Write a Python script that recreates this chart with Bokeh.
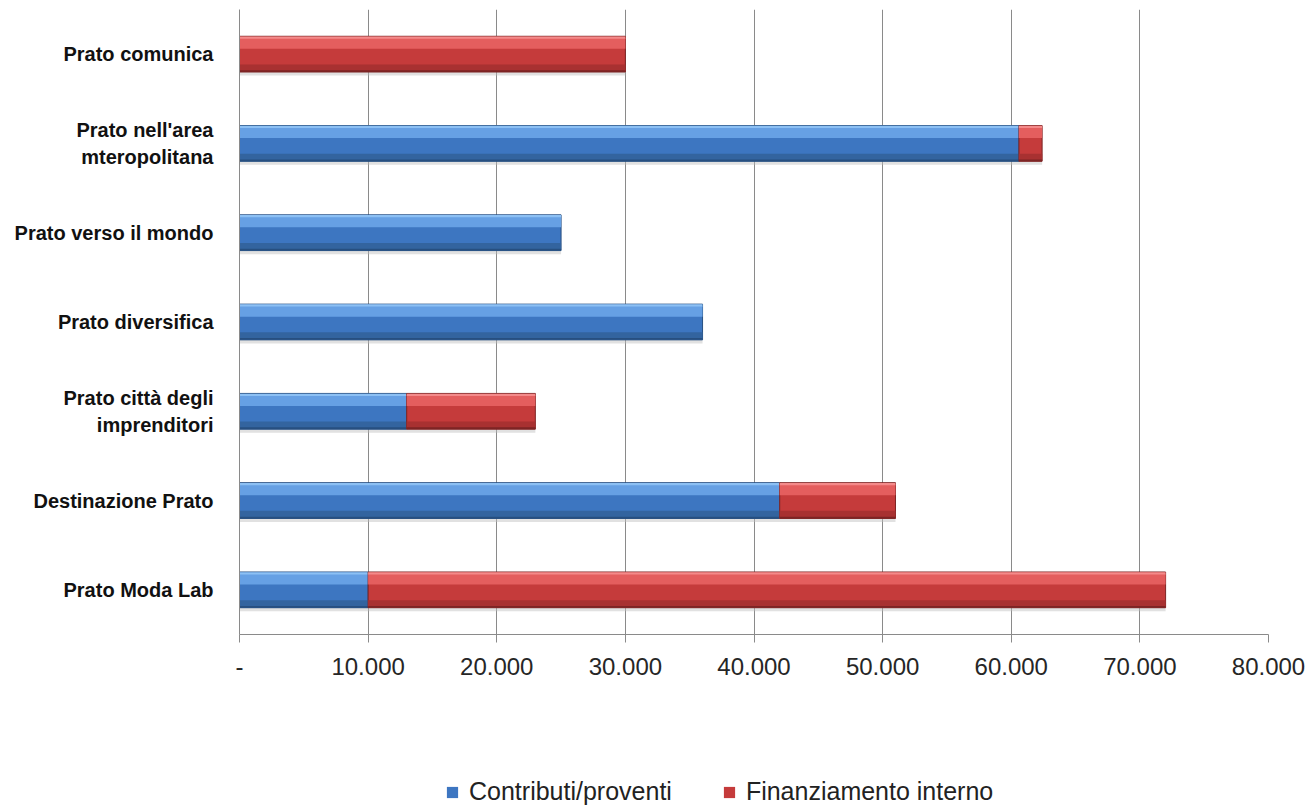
import numpy as np
from bokeh.plotting import figure
from bokeh.layouts import column
from bokeh.models import Legend, LegendItem, FixedTicker, ColumnDataSource
from bokeh.embed import file_html
from bokeh.resources import INLINE

# ---------------- data ----------------
categories = [
    "Prato Moda Lab",
    "Destinazione Prato",
    "Prato città degli\nimprenditori",
    "Prato diversifica",
    "Prato verso il mondo",
    "Prato nell'area\nmteropolitana",
    "Prato comunica",
]
contributi = [10000, 42000, 13000, 36000, 25000, 60600, 0]
finanziamento = [62000, 9000, 10000, 0, 0, 1800, 30000]
series_names = ["Contributi/proventi", "Finanziamento interno"]
x_ticks = [0, 10000, 20000, 30000, 40000, 50000, 60000, 70000, 80000]
x_tick_labels = ["-", "10.000", "20.000", "30.000", "40.000", "50.000",
                 "60.000", "70.000", "80.000"]

# ---------------- main figure ----------------
W, H = 1308, 760
p = figure(width=W, height=H, output_backend="svg", toolbar_location=None,
           x_range=(0, 80000), y_range=(-0.5, 6.5),
           min_border_left=239, min_border_right=W - 1268, min_border_top=9,
           min_border_bottom=H - 634)
p.outline_line_color = None
p.background_fill_color = "white"
p.border_fill_color = "white"

ypos = np.arange(len(categories), dtype=float)
blue = np.array(contributi, dtype=float)
red = np.array(finanziamento, dtype=float)

BH = 0.40
styles = {
    "blue": dict(mid="#3d76c1", top="#66a0e4", edge="#8cc0f4", low="#33649f", dark="#274f80"),
    "red": dict(mid="#c53b3b", top="#e45e5e", edge="#f48a8a", low="#a83131", dark="#7d2424"),
}

# soft shadow under full bars
tot = blue + red
p.hbar(y=ypos - BH / 2 - 0.02, left=0, right=tot, height=0.04,
       fill_color="#bdbdbd", fill_alpha=0.45, line_color=None)

def draw(left, right, key):
    m = right > left
    src = ColumnDataSource(dict(y=ypos[m], l=left[m], r=right[m]))
    s = styles[key]
    base = p.hbar(y="y", left="l", right="r", height=BH, source=src,
                  fill_color=s["mid"], line_color=s["dark"], line_width=1)
    for off, h, c in [(0.12, 0.12, s["top"]), (0.185, 0.025, s["edge"]),
                      (-0.155, 0.08, s["low"]), (-0.19, 0.02, s["dark"])]:
        d = dict(y=ypos[m] + off, l=left[m], r=right[m])
        p.hbar(y="y", left="l", right="r", height=h, source=ColumnDataSource(d),
               fill_color=c, line_color=None)
    return base

draw(np.zeros_like(blue), blue, "blue")
draw(blue, blue + red, "red")

# ---------------- axes ----------------
xa = p.xaxis[0]
xa.ticker = FixedTicker(ticks=x_ticks)
xa.major_label_overrides = {t: l for t, l in zip(x_ticks, x_tick_labels)}
xa.axis_line_color = "#8a8a8a"
xa.major_tick_line_color = "#8a8a8a"
xa.major_tick_out = 8
xa.major_tick_in = 0
xa.minor_tick_line_color = None
xa.major_label_text_font = "Liberation Sans"
xa.major_label_text_font_size = "24px"
xa.major_label_text_color = "#262626"
xa.major_label_standoff = 15

ya = p.yaxis[0]
ya.ticker = FixedTicker(ticks=list(range(len(categories))))
ya.major_label_overrides = {i: c for i, c in enumerate(categories)}
ya.axis_line_color = "#8a8a8a"
ya.major_tick_line_color = None
ya.minor_tick_line_color = None
ya.major_label_standoff = 20
ya.major_label_text_font = "Liberation Sans"
ya.major_label_text_font_style = "bold"
ya.major_label_text_font_size = "20px"
ya.major_label_text_color = "#111111"
ya.major_label_text_line_height = 1.25

p.xgrid.ticker = FixedTicker(ticks=x_ticks)
p.xgrid.grid_line_color = "#8a8a8a"
p.xgrid.grid_line_width = 1
p.ygrid.grid_line_color = None

# ---------------- legend strip ----------------
pl = figure(width=W, height=46, output_backend="svg", toolbar_location=None,
            x_range=(0, 1), y_range=(0, 1), x_axis_location=None,
            y_axis_location=None, min_border=0)
pl.grid.visible = False
pl.outline_line_color = None
items = []
for name, key in zip(series_names, ["blue", "red"]):
    s = styles[key]
    # zero-width placeholder bar: only its style is used, by the legend swatch
    r = pl.hbar(y=[0.5], left=[0], right=[0], height=0.5,
                fill_color=s["mid"], line_color=None)
    items.append(LegendItem(label=name, renderers=[r]))

legend = Legend(items=items, orientation="horizontal", location=(206, 0),
                glyph_width=14, glyph_height=14, label_standoff=10, spacing=50,
                padding=0, margin=0, label_text_font="Liberation Sans",
                label_text_font_size="25px", label_text_color="#222222",
                border_line_color=None, background_fill_alpha=0)
pl.add_layout(legend, "center")

layout = column(p, pl, spacing=0)
open("out.html", "w").write(file_html(layout, INLINE))
